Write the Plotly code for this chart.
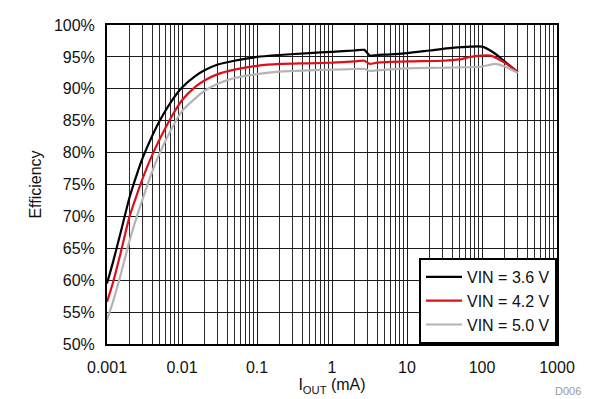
import plotly.graph_objects as go

# Black: VIN = 3.6 V
i_36 = [0.001, 0.0012, 0.0015, 0.002, 0.0025, 0.003, 0.004, 0.005, 0.007, 0.01, 0.015, 0.02, 0.03, 0.05, 0.1, 0.2, 0.5, 1, 2, 2.7, 3.2, 4, 6, 10, 20, 40, 70, 100, 150, 200, 300]
e_36 = [59.5, 62.8, 67.2, 73.0, 76.6, 79.2, 82.6, 84.9, 87.8, 90.2, 92.0, 92.9, 93.8, 94.4, 95.0, 95.3, 95.6, 95.8, 96.0, 96.1, 95.2, 95.3, 95.4, 95.6, 96.0, 96.4, 96.6, 96.6, 95.5, 94.3, 92.6]

# Red: VIN = 4.2 V
i_42 = [0.001, 0.0012, 0.0015, 0.002, 0.0025, 0.003, 0.004, 0.005, 0.007, 0.01, 0.015, 0.02, 0.03, 0.05, 0.1, 0.2, 0.5, 1, 2, 2.7, 3.2, 4, 10, 30, 50, 70, 100, 130, 200, 300]
e_42 = [56.6, 59.6, 64.0, 70.0, 73.4, 76.0, 79.6, 82.0, 85.3, 88.2, 90.3, 91.3, 92.3, 93.0, 93.6, 93.9, 94.0, 94.1, 94.3, 94.4, 93.9, 94.1, 94.3, 94.4, 94.6, 95.0, 95.2, 95.2, 94.1, 92.6]

# Gray: VIN = 5.0 V
i_50 = [0.001, 0.0012, 0.0015, 0.002, 0.0025, 0.003, 0.004, 0.005, 0.007, 0.01, 0.015, 0.02, 0.03, 0.05, 0.1, 0.2, 0.5, 1, 2, 2.7, 3.2, 4, 10, 30, 100, 150, 200, 300]
e_50 = [53.8, 56.6, 60.6, 66.2, 70.0, 72.8, 77.0, 79.8, 83.4, 86.5, 88.5, 89.7, 90.8, 91.7, 92.3, 92.7, 92.9, 93.0, 93.1, 93.1, 92.8, 92.9, 93.2, 93.3, 93.5, 93.9, 93.5, 92.5]

x_tickvals = [0.001, 0.01, 0.1, 1, 10, 100, 1000]
x_ticktext = ["0.001", "0.01", "0.1", "1", "10", "100", "1000"]
y_tickvals = [50, 55, 60, 65, 70, 75, 80, 85, 90, 95, 100]
y_ticktext = ["50%", "55%", "60%", "65%", "70%", "75%", "80%", "85%", "90%", "95%", "100%"]

FONT = "Liberation Sans, Arial, sans-serif"

fig = go.Figure()
fig.add_trace(go.Scatter(x=i_36, y=e_36, mode="lines", name="VIN = 3.6 V",
                         line=dict(color="#000000", width=2.2, shape="spline", smoothing=0.6)))
fig.add_trace(go.Scatter(x=i_42, y=e_42, mode="lines", name="VIN = 4.2 V",
                         line=dict(color="#e0101a", width=2.2, shape="spline", smoothing=0.6)))
fig.add_trace(go.Scatter(x=i_50, y=e_50, mode="lines", name="VIN = 5.0 V",
                         line=dict(color="#b4b4b4", width=2.2, shape="spline", smoothing=0.6)))

fig.update_layout(
    width=600, height=399,
    margin=dict(l=107, r=43, t=25, b=55),
    paper_bgcolor="white", plot_bgcolor="white",
    font=dict(family=FONT, size=16, color="#111"),
    showlegend=True,
    legend=dict(x=1, y=0, xanchor="right", yanchor="bottom",
                bgcolor="white", bordercolor="#000", borderwidth=2,
                font=dict(size=16, family=FONT), tracegroupgap=0,
                itemwidth=36),
    xaxis=dict(type="log", range=[-3, 3], tickvals=x_tickvals, ticktext=x_ticktext,
               showgrid=True, gridcolor="#1a1a1a", gridwidth=1,
               minor=dict(showgrid=True, gridcolor="#2a2a2a", gridwidth=1, dtick="D1"),
               showline=True, linecolor="#000", linewidth=2, mirror=True,
               ticks="", ticklabelstandoff=8, zeroline=False, automargin=False,
               title=dict(text="I<sub>OUT</sub> (mA)", font=dict(size=16), standoff=4)),
    yaxis=dict(range=[50, 100], tickvals=y_tickvals, ticktext=y_ticktext,
               showgrid=True, gridcolor="#1a1a1a", gridwidth=1,
               showline=True, linecolor="#000", linewidth=2, mirror=True,
               ticks="", ticklabelstandoff=7, zeroline=False, automargin=False,
               title=dict(text="Efficiency", font=dict(size=16), standoff=8)),
    annotations=[dict(text="D006", x=(568 - 107) / 450, y=(344 - 391) / 319,
                      xref="paper", yref="paper", xanchor="center", yanchor="middle",
                      showarrow=False, font=dict(size=11, color="#999"))],
)

fig.write_html("out.html", config={"displayModeBar": False},
               post_script="document.body.style.margin='0';")
